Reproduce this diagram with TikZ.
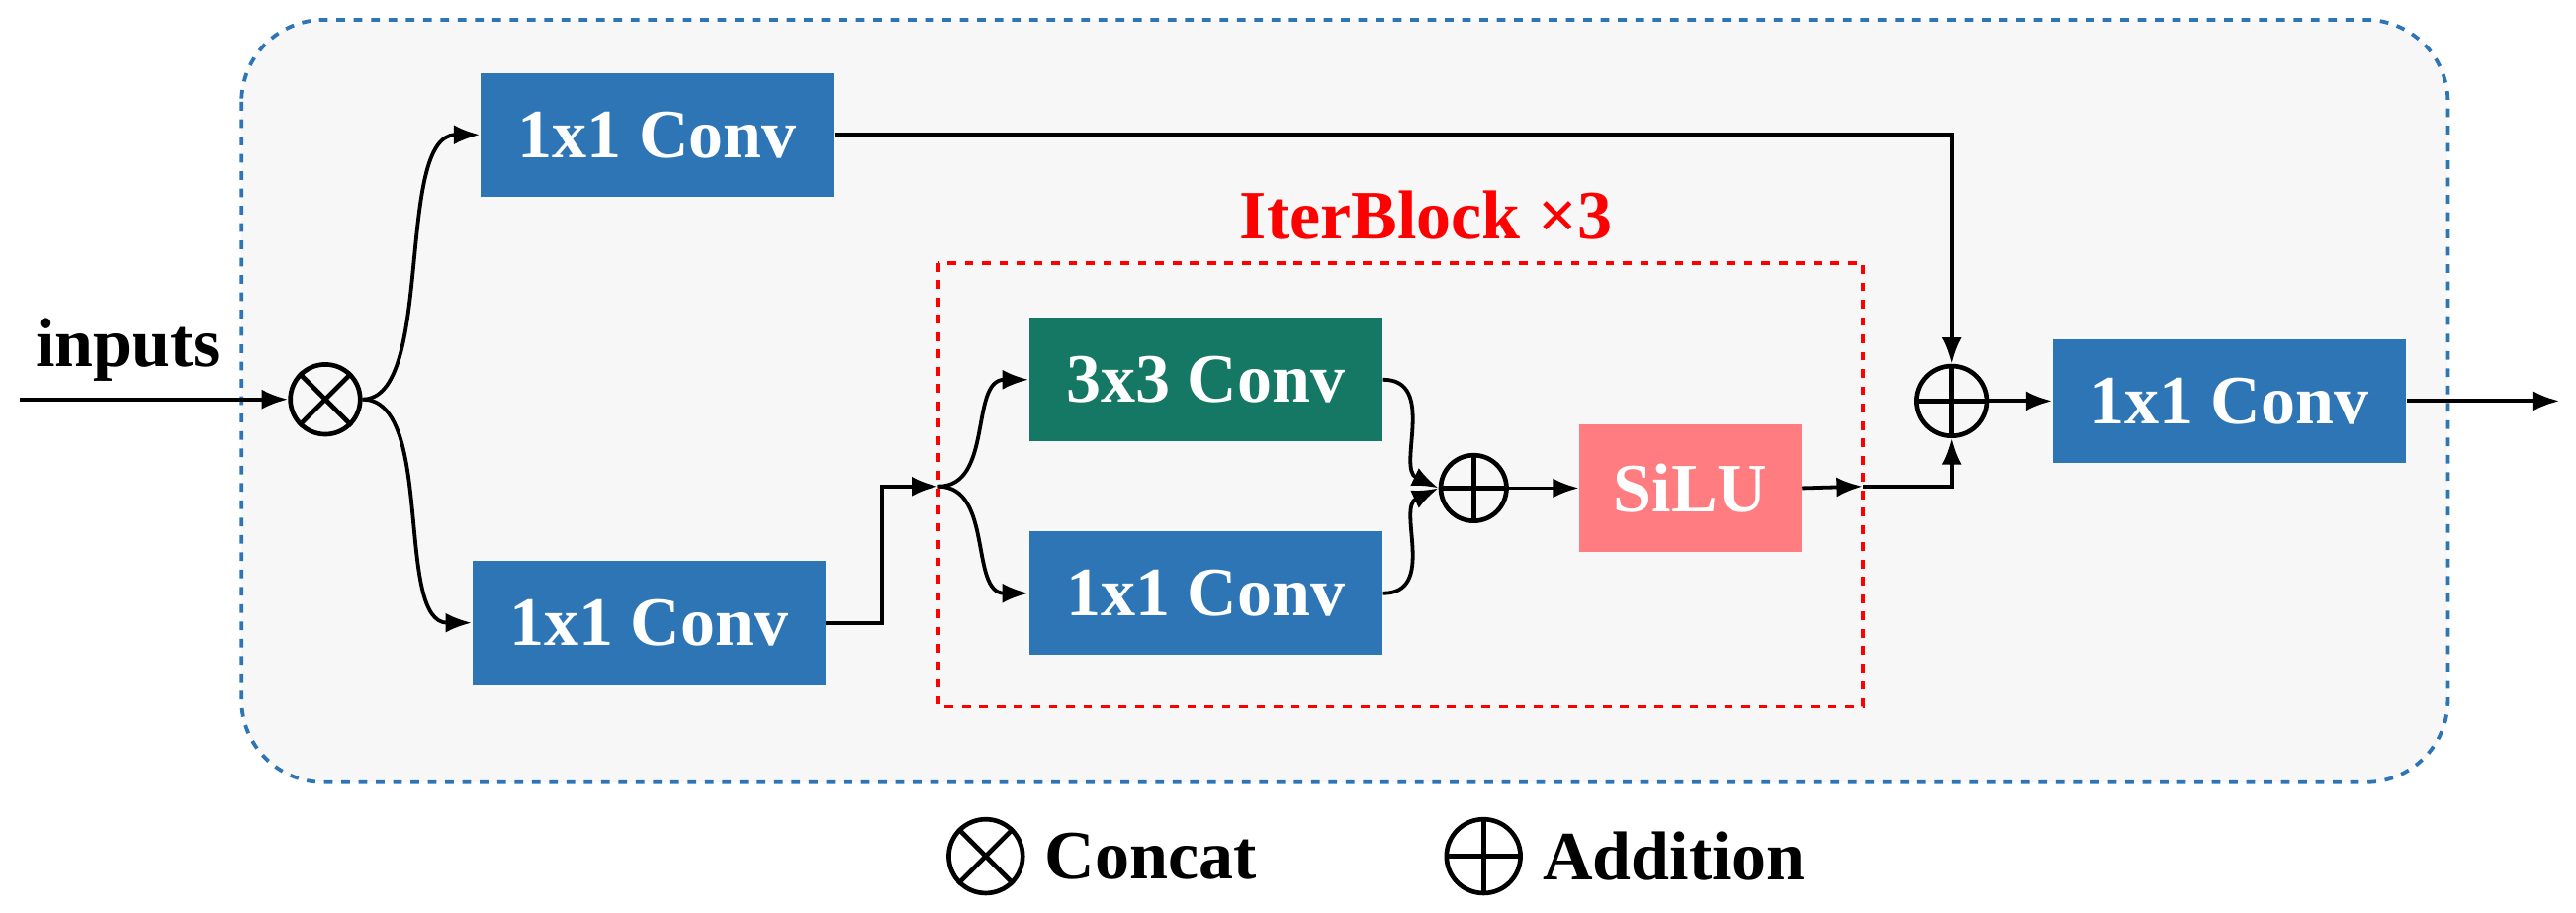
\documentclass[tikz,border=0pt]{standalone}
\usepackage{fontspec}
\setmainfont{Liberation Serif}
\usetikzlibrary{arrows.meta}
\definecolor{cblue}{HTML}{2E75B6}
\definecolor{cteal}{HTML}{147864}
\definecolor{cpink}{HTML}{FF7C80}
\begin{document}
\begin{tikzpicture}[x=0.02cm,y=-0.02cm,
  box/.style={draw=none,minimum width=4.3cm,minimum height=1.5cm,text=white,font=\fontsize{24}{28}\selectfont\bfseries},
  op/.style={circle,draw,line width=1.6pt,minimum size=0.85cm,inner sep=0pt},
  arr/.style={-{Latex[length=3.2mm,width=2.4mm]},line width=1.3pt},
  ln/.style={line width=1.3pt}]
\useasboundingbox (0,0) rectangle (1568,555);
\draw[cblue,dashed,line width=1.3pt,fill=gray!6,rounded corners=1.0cm] (147,12) rectangle (1490,476);
\draw[red,dashed,line width=1.3pt] (571,160) rectangle (1134,430);
\node[text=red,font=\fontsize{24}{28}\selectfont\bfseries] (lbl) at (868,131) {IterBlock ×3};
\node[box,fill=cblue] (c1) at (400,82) {1x1 Conv};
\node[box,fill=cblue] (c2) at (395,379) {1x1 Conv};
\node[box,fill=cteal] (c3) at (734,231) {3x3 Conv};
\node[box,fill=cblue] (c4) at (734,361) {1x1 Conv};
\node[box,fill=cpink,minimum width=2.7cm,minimum height=1.56cm] (silu) at (1029,297) {SiLU};
\node[box,fill=cblue] (c5) at (1357,244) {1x1 Conv};
\node[font=\fontsize{24}{28}\selectfont\bfseries] (in) at (78,213) {inputs};
\coordinate (ins) at (12,243);
\coordinate (out) at (1558,244);
\node[op] (cat) at (198,243) {};
\draw[line width=1.6pt] (cat.45)--(cat.225) (cat.135)--(cat.315);
\node[op,minimum size=0.8cm] (a1) at (897,297) {};
\draw[line width=1.6pt] (a1.north)--(a1.south) (a1.west)--(a1.east);
\node[op] (a2) at (1188,244) {};
\draw[line width=1.6pt] (a2.north)--(a2.south) (a2.west)--(a2.east);
\draw[arr] (ins) -- (cat.west);
\draw[arr] (cat.east) .. controls (265,243) and (240,82) .. (c1.west);
\draw[arr] (cat.east) .. controls (265,243) and (240,379) .. (c2.west);
\coordinate (sp) at (571,296);
\draw[arr] (c2.east) -- (537,379) -- (537,296) -- (sp);
\draw[arr] (sp) .. controls (605,296) and (590,231) .. (c3.west);
\draw[arr] (sp) .. controls (605,296) and (590,361) .. (c4.west);
\draw[arr] (c3.east) .. controls (875,231) and (850,285) .. (a1.west);
\draw[arr] (c4.east) .. controls (875,361) and (850,309) .. (a1.west);
\draw[arr] (a1.east) -- (silu.west);
\coordinate (rb) at (1134,296);
\draw[arr] (silu.east) -- (rb);
\draw[arr] (rb) -- (1188,296) -- (a2.south);
\draw[arr] (c1.east) -- (1188,82) -- (a2.north);
\draw[arr] (a2.east) -- (c5.west);
\draw[arr] (c5.east) -- (out);
\node[op,minimum size=0.9cm] (lc) at (600,521) {};
\draw[line width=1.6pt] (lc.45)--(lc.225) (lc.135)--(lc.315);
\node[font=\fontsize{24}{28}\selectfont\bfseries,anchor=west] (lct) at (630,521) {Concat};
\node[op,minimum size=0.9cm] (la) at (903,521) {};
\draw[line width=1.6pt] (la.north)--(la.south) (la.west)--(la.east);
\node[font=\fontsize{24}{28}\selectfont\bfseries,anchor=west] (lat) at (933,521) {Addition};
\end{tikzpicture}
\end{document}
